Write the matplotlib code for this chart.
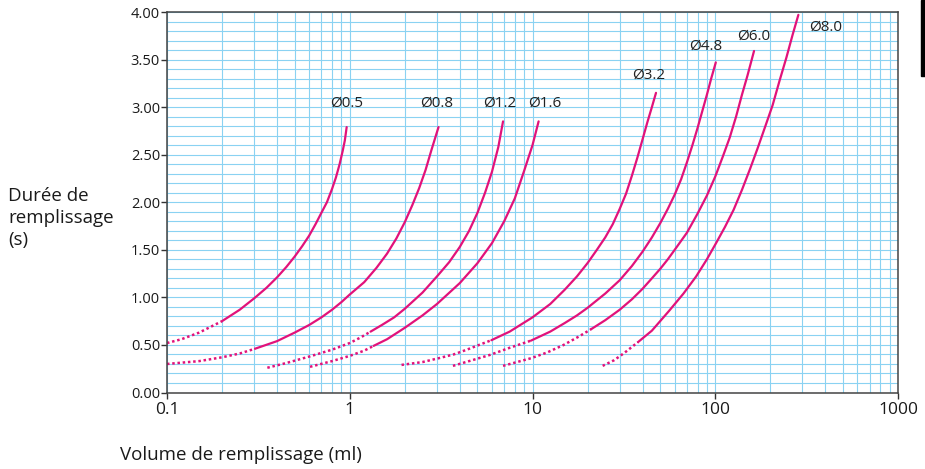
import matplotlib
matplotlib.use("Agg")
import matplotlib.pyplot as plt
from matplotlib.ticker import LogLocator, MultipleLocator, FixedLocator, FixedFormatter, NullFormatter
from matplotlib.patches import Rectangle

plt.rcParams['font.family'] = ['Open Sans', 'DejaVu Sans']

# nozzle diameters and label positions (volume ml, time s)
diameters = ["Ø0.5", "Ø0.8", "Ø1.2", "Ø1.6", "Ø3.2", "Ø4.8", "Ø6.0", "Ø8.0"]
labelVol = [0.78, 2.42, 5.37, 9.5, 34.9, 71.6, 132, 326]
labelTime = [3.04, 3.04, 3.04, 3.04, 3.34, 3.64, 3.75, 3.84]

# dotted (low range) part of each curve
d05DotVol = [0.1, 0.12, 0.15, 0.2]
d05DotTime = [0.52, 0.56, 0.63, 0.75]
d08DotVol = [0.1, 0.15, 0.2, 0.25, 0.303]
d08DotTime = [0.30, 0.33, 0.37, 0.41, 0.46]
d12DotVol = [0.354, 0.45, 0.606, 0.8, 1.0, 1.15, 1.3]
d12DotTime = [0.26, 0.31, 0.38, 0.45, 0.52, 0.58, 0.64]
d16DotVol = [0.606, 0.8, 1.0, 1.2, 1.35]
d16DotTime = [0.27, 0.33, 0.385, 0.44, 0.49]
d32DotVol = [1.92, 2.5, 3.06, 3.7, 4.37, 5.1, 5.96]
d32DotTime = [0.29, 0.32, 0.36, 0.40, 0.45, 0.50, 0.55]
d48DotVol = [3.67, 4.5, 5.85, 7.5, 9.8]
d48DotTime = [0.28, 0.33, 0.395, 0.47, 0.545]
d60DotVol = [6.9, 9.8, 12, 14.8, 18, 21.1]
d60DotTime = [0.28, 0.36, 0.42, 0.50, 0.59, 0.67]
d80DotVol = [24.2, 28, 32, 37.8]
d80DotTime = [0.28, 0.34, 0.42, 0.53]

# solid part of each curve
d05Vol = [0.2, 0.25, 0.3, 0.35, 0.4, 0.45, 0.5, 0.55, 0.6, 0.65, 0.7, 0.75, 0.8, 0.84,
          0.88, 0.915, 0.94, 0.962]
d05Time = [0.75, 0.87, 0.99, 1.10, 1.21, 1.32, 1.43, 1.54, 1.65, 1.77, 1.89, 2.0, 2.14, 2.26,
           2.4, 2.54, 2.65, 2.79]
d08Vol = [0.303, 0.4, 0.5, 0.6, 0.7, 0.8, 0.9, 1.0, 1.2, 1.4, 1.6, 1.8, 2.0, 2.2, 2.4, 2.6,
          2.8, 3.06]
d08Time = [0.46, 0.54, 0.63, 0.71, 0.79, 0.87, 0.95, 1.03, 1.16, 1.31, 1.46, 1.62, 1.79, 1.97,
           2.15, 2.34, 2.55, 2.79]
d12Vol = [1.3, 1.5, 1.75, 2.0, 2.5, 3.0, 3.5, 4.0, 4.5, 5.0, 5.5, 6.0, 6.5, 6.9]
d12Time = [0.64, 0.71, 0.79, 0.88, 1.05, 1.22, 1.37, 1.53, 1.70, 1.89, 2.10, 2.32, 2.58, 2.85]
d16Vol = [1.35, 1.6, 2.0, 2.5, 3.0, 4.0, 5.0, 6.0, 7.0, 8.0, 9.0, 10.0, 10.8]
d16Time = [0.49, 0.56, 0.68, 0.81, 0.93, 1.15, 1.36, 1.57, 1.80, 2.04, 2.33, 2.60, 2.85]
d32Vol = [5.96, 7.5, 10, 12.5, 15, 17.5, 20, 22.5, 25, 27.5, 30, 32.5, 35, 37.5, 40, 42.5,
          45, 47.4]
d32Time = [0.55, 0.64, 0.79, 0.93, 1.08, 1.22, 1.36, 1.50, 1.63, 1.77, 1.93, 2.09, 2.28, 2.47,
           2.66, 2.84, 3.0, 3.15]
d48Vol = [9.8, 12.5, 15, 17.5, 20, 25, 30, 35, 40, 45, 50, 55, 60, 65, 70, 75, 80, 85, 90,
          95, 100.7]
d48Time = [0.545, 0.64, 0.73, 0.81, 0.89, 1.04, 1.18, 1.33, 1.48, 1.63, 1.78, 1.93, 2.08, 2.24,
           2.42, 2.6, 2.78, 2.96, 3.13, 3.3, 3.47]
d60Vol = [21.1, 25, 30, 35, 40, 45, 50, 55, 60, 70, 80, 90, 100, 110, 120, 130, 140, 150, 163]
d60Time = [0.67, 0.76, 0.87, 0.98, 1.09, 1.2, 1.3, 1.4, 1.5, 1.68, 1.88, 2.07, 2.27, 2.48,
           2.68, 2.9, 3.13, 3.33, 3.59]
d80Vol = [37.8, 45, 56, 67, 78.6, 90, 101, 113, 126, 140, 155, 170, 188, 206, 225, 245, 265, 285]
d80Time = [0.53, 0.65, 0.86, 1.04, 1.22, 1.40, 1.57, 1.74, 1.92, 2.13, 2.35, 2.56, 2.8, 3.02,
           3.28, 3.52, 3.76, 3.97]

yTicks = [0.0, 0.5, 1.0, 1.5, 2.0, 2.5, 3.0, 3.5, 4.0]
xTicks = [0.1, 1, 10, 100, 1000]
xTickLabels = ["0.1", "1", "10", "100", "1000"]

dotted = [(d05DotVol, d05DotTime), (d08DotVol, d08DotTime), (d12DotVol, d12DotTime),
          (d16DotVol, d16DotTime), (d32DotVol, d32DotTime), (d48DotVol, d48DotTime),
          (d60DotVol, d60DotTime), (d80DotVol, d80DotTime)]
solid = [(d05Vol, d05Time), (d08Vol, d08Time), (d12Vol, d12Time), (d16Vol, d16Time),
         (d32Vol, d32Time), (d48Vol, d48Time), (d60Vol, d60Time), (d80Vol, d80Time)]

curveColor = '#e2127a'
gridColor = '#8ad2f2'

fig = plt.figure(figsize=(9.25, 4.69), dpi=100)
ax = fig.add_axes([167 / 925, 76.5 / 469, 731 / 925, 380.5 / 469])

for (v, t) in dotted:
    ax.plot(v, t, color=curveColor, lw=1.8, linestyle=(0, (1, 1.1)), solid_capstyle='butt')
for (v, t) in solid:
    ax.plot(v, t, color=curveColor, lw=1.6, solid_capstyle='round', solid_joinstyle='round')

for name, lv, lt in zip(diameters, labelVol, labelTime):
    ax.text(lv, lt, name, fontsize=11, ha='left', va='center', color='#222222')

ax.set_xscale('log')
ax.set_xlim(0.1, 1000)
ax.set_ylim(0, 4)

ax.xaxis.set_major_locator(FixedLocator(xTicks))
ax.xaxis.set_major_formatter(FixedFormatter(xTickLabels))
ax.xaxis.set_minor_locator(LogLocator(base=10, subs=range(2, 10)))
ax.xaxis.set_minor_formatter(NullFormatter())
ax.yaxis.set_major_locator(FixedLocator(yTicks))
ax.yaxis.set_major_formatter(FixedFormatter(["%.2f" % y for y in yTicks]))
ax.yaxis.set_minor_locator(MultipleLocator(0.1))

ax.grid(which='both', color=gridColor, lw=0.8)
ax.set_axisbelow(True)
ax.tick_params(which='minor', length=0)
ax.tick_params(which='major', length=4, width=1, color='#333333', direction='out')
ax.tick_params(axis='x', labelsize=12.5, pad=3, labelcolor='#1a1a1a')
ax.tick_params(axis='y', labelsize=10.5, pad=1, labelcolor='#1a1a1a')
for s in ax.spines.values():
    s.set_color('#444444')
    s.set_linewidth(1.1)

fig.text(8 / 925, 1 - 218 / 469, "Durée de\nremplissage\n(s)", fontsize=13.5,
         ha='left', va='center', linespacing=1.3, color='#1a1a1a')
fig.text(120 / 925, 1 - 455 / 469, "Volume de remplissage (ml)", fontsize=13.5,
         ha='left', va='center', color='#1a1a1a')

fig.add_artist(Rectangle((921 / 925, 1 - 76 / 469), 4 / 925, 76 / 469,
                         transform=fig.transFigure, color='black'))

fig.savefig("out.png", dpi=100)
